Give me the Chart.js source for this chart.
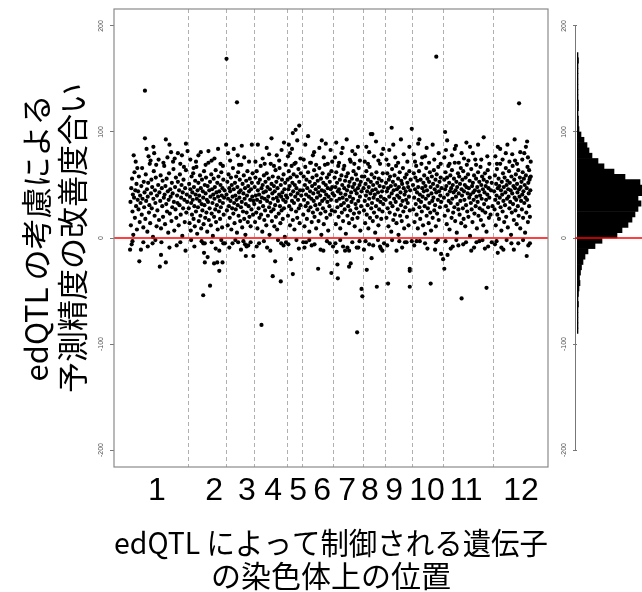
<!DOCTYPE html>
<html>
<head>
<meta charset="utf-8">
<script src="https://cdn.jsdelivr.net/npm/chart.js@4.4.1/dist/chart.umd.min.js"></script>
<style>
	html, body { margin: 0; padding: 0; background: #fff; overflow: hidden; width: 642px; height: 592px; }
	#wrap { position: relative; width: 642px; height: 592px; overflow: hidden; }
	#mainChart { position: absolute; left: 0; top: 0; }
	#histChart { position: absolute; left: 548px; top: 0; }
</style>
</head>
<body>
<div id="wrap">
	<canvas id="mainChart" width="642" height="592"></canvas>
	<canvas id="histChart" width="160" height="592"></canvas>
</div>
<script>
// chromosome layout (gene position index 0..1000)
const chromosomeNames = ['1', '2', '3', '4', '5', '6', '7', '8', '9', '10', '11', '12'];
const chromosomeLabelPos = [67, 209, 291, 356, 418, 478, 540, 597, 657, 739, 836, 973];
const chromosomeBreaks = [145, 238, 308, 390, 428, 506, 579, 634, 701, 778, 904];
const yTicks = [-200, -100, 0, 100, 200];

// [position, improvement] per chromosome
const chr1 = [[1,34],[2,12],[3,47],[5,56],[6,25],[7,41],[8,3],[10,38],[11,62],[12,19],
	[13,45],[15,30],[16,51],[17,8],[19,36],[20,44],[21,27],[22,58],[24,15],[25,40],
	[26,33],[28,49],[29,22],[30,66],[31,37],[33,10],[34,53],[35,29],[36,43],[38,18],
	[39,60],[40,35],[42,46],[43,6],[44,39],[45,52],[47,24],[48,31],[49,70],[50,14],
	[52,42],[53,55],[54,28],[55,48],[57,1],[58,37],[59,63],[61,21],[62,45],[63,33],
	[64,57],[66,11],[67,40],[68,26],[70,50],[71,74],[72,17],[73,43],[75,35],[76,59],
	[77,9],[79,47],[80,30],[81,54],[82,20],[84,38],[85,68],[86,41],[87,13],[88,49],
	[90,32],[91,56],[92,25],[94,44],[95,5],[96,36],[97,61],[99,23],[100,46],[101,39],
	[103,16],[104,52],[105,29],[106,42],[108,65],[109,34],[110,7],[112,48],[113,27],[114,57],
	[115,19],[117,40],[118,33],[119,53],[121,12],[122,45],[123,31],[124,60],[126,22],[127,38],
	[128,50],[130,2],[131,43],[132,28],[133,55],[135,36],[136,15],[137,47],[139,64],[140,24],
	[141,41],[142,34],
	[9,78],[18,66],[41,84],[51,73],[65,69],[93,76],[98,88],[107,72],[129,78],[134,67],
	[37,139],[37,94],[89,93],[58,86],[60,80],[102,81],[119,80],[139,89],[143,82],
	[14,72],[46,77],[83,71],[111,75],[125,70],
	[6,-3],[44,-8],[63,-2],[98,-9],[125,-4],[138,-12],
	[0,-11],[4,-6],[27,-11],[23,-22],[33,-4],[56,-5],[78,-4],[77,-16],[74,-27],[89,-23],[116,-7]];
const chr2 = [[146,28],[147,51],[148,14],[149,39],[150,46],[151,7],[152,33],[153,58],[154,22],[155,43],
	[156,36],[157,61],[158,18],[159,48],[160,30],[161,11],[162,54],[163,41],[164,25],[165,67],
	[166,37],[167,4],[168,45],[169,29],[170,52],[171,16],[172,40],[173,35],[174,59],[175,21],
	[176,47],[177,9],[178,32],[179,55],[180,26],[181,44],[182,38],[183,13],[184,63],[185,31],
	[186,50],[187,19],[188,42],[189,57],[190,24],[191,36],[192,6],[193,49],[194,34],[195,71],
	[196,17],[197,45],[198,28],[199,53],[200,39],[201,12],[202,60],[203,23],[204,46],[205,33],
	[206,2],[207,41],[208,56],[209,20],[210,37],[211,48],[212,27],[213,64],[214,15],[215,43],
	[216,31],[217,52],[218,8],[219,39],[220,58],[221,25],[222,44],[223,35],[224,18],[225,50],
	[226,29],[227,62],[228,40],[229,10],[230,47],[231,33],[232,55],[233,22],[234,38],[235,45],
	[150,74],[158,66],[176,81],[188,69],[203,73],[219,84],[231,68],
	[164,72],[170,78],[195,82],[210,75],[225,70],
	[152,-2],[160,-8],[203,-4],[213,-10],[227,-2],
	[178,-3],[182,-5],[186,-5],[184,-14],[186,-23],[193,-18],[199,-45],[182,-54],[209,-24],[217,-23],
	[222,-12],[222,-31],[230,-23],[232,-5],[236,-5]];
const chr3 = [[240,41],[241,26],[242,53],[243,12],[244,37],[245,60],[246,30],[247,47],[248,19],[249,44],
	[250,35],[251,57],[252,8],[253,50],[254,28],[255,39],[256,66],[257,23],[258,46],[259,33],
	[260,14],[261,52],[262,40],[263,27],[264,58],[265,36],[266,5],[267,48],[268,31],[269,62],
	[270,21],[271,43],[272,38],[273,55],[274,16],[275,45],[276,29],[277,69],[278,34],[279,10],
	[280,51],[281,25],[282,42],[283,59],[284,18],[285,37],[286,47],[287,3],[288,32],[289,54],
	[290,24],[291,40],[292,63],[293,15],[294,49],[295,30],[296,44],[297,20],[298,56],[299,36],
	[300,11],[301,46],[302,27],[303,52],[304,39],[305,61],[306,22],[307,35],
	[249,73],[258,84],[271,69],[284,76],[296,72],[303,88],
	[240,169],[266,128],[244,80],[239,88],[278,87],[268,78],
	[247,-9],[262,-2],[276,-11],[300,-4],
	[255,-5],[269,-4],[282,-3],[286,-6],[290,-8],[288,-17],[294,-7],[307,-17]];
const chr4 = [[309,32],[310,48],[311,15],[312,57],[313,40],[314,24],[315,63],[316,36],[317,9],[318,45],
	[319,52],[320,28],[321,41],[322,19],[323,55],[324,34],[325,68],[326,22],[327,47],[328,38],
	[329,6],[330,50],[331,30],[332,43],[333,59],[334,17],[335,37],[336,26],[337,53],[338,44],
	[339,12],[340,61],[341,35],[342,48],[343,21],[344,39],[345,56],[346,29],[347,3],[348,46],
	[349,33],[350,70],[351,25],[352,51],[353,16],[354,42],[355,58],[356,37],[357,27],[358,49],
	[359,11],[360,44],[361,31],[362,64],[363,20],[364,53],[365,38],[366,8],[367,47],[368,35],
	[369,57],[370,23],[371,41],[372,66],[373,30],[374,14],[375,50],[376,39],[377,26],[378,55],
	[379,43],[380,18],[381,36],[382,60],[383,28],[384,46],[385,1],[386,52],[387,34],[388,40],
	[312,72],[318,88],[335,70],[346,79],[352,94],[358,68],[371,73],[383,90],[387,69],
	[340,85],[377,83],[330,75],[365,78],
	[315,-8],[333,-3],[349,-12],[368,-2],[382,-7],
	[327,-82],[341,-9],[355,-36],[361,-22],[375,-41],[376,-5],[388,-4],[321,-5]];
const chr5 = [[391,38],[392,55],[393,21],[394,46],[395,63],[396,30],[397,49],[398,12],[399,57],[400,41],
	[401,27],[402,68],[403,35],[404,52],[405,17],[406,44],[407,60],[408,33],[409,8],[410,50],
	[411,39],[412,71],[413,25],[414,47],[415,58],[416,19],[417,42],[418,36],[419,65],[420,28],
	[421,53],[422,14],[423,45],[424,31],[425,61],[426,40],
	[393,77],[403,84],[409,70],[416,92],[424,75],
	[405,99],[412,102],[421,106],[398,80],[395,88],
	[394,-6],[414,-2],[420,-10],[400,-20],[405,-34]];
const chr6 = [[430,45],[431,22],[432,58],[433,36],[434,11],[435,50],[436,67],[437,30],[438,41],[439,55],
	[440,18],[441,47],[442,33],[443,62],[444,26],[445,39],[446,6],[447,53],[448,44],[449,29],
	[450,71],[451,37],[452,15],[453,49],[454,57],[455,24],[456,42],[457,35],[458,64],[459,20],
	[460,51],[461,31],[462,46],[463,9],[464,59],[465,38],[466,27],[467,54],[468,43],[469,16],
	[470,48],[471,66],[472,32],[473,40],[474,23],[475,56],[476,3],[477,45],[478,35],[479,61],
	[480,28],[481,52],[482,13],[483,44],[484,37],[485,69],[486,25],[487,50],[488,41],[489,19],
	[490,57],[491,34],[492,47],[493,7],[494,39],[495,60],[496,30],[497,53],[498,22],[499,46],
	[500,36],[501,63],[502,26],[503,48],[504,42],
	[432,74],[436,88],[448,71],[455,78],[463,69],[477,92],[482,76],[492,70],[499,83],[503,72],
	[443,96],[458,81],[471,85],[487,89],
	[434,-9],[446,-2],[459,-6],[474,-11],[490,-3],
	[431,-4],[438,-4],[452,-7],[468,-29],[481,-12],[497,-5],[501,-33],[505,-8]];
const chr7 = [[508,40],[509,57],[510,25],[511,48],[512,13],[513,62],[514,35],[515,52],[516,29],[517,44],
	[518,68],[519,20],[520,46],[521,37],[522,55],[523,9],[524,42],[525,31],[526,59],[527,24],
	[528,50],[529,38],[530,16],[531,65],[532,33],[533,47],[534,27],[535,54],[536,41],[537,4],
	[538,58],[539,36],[540,45],[541,21],[542,61],[543,30],[544,49],[545,14],[546,53],[547,39],
	[548,26],[549,72],[550,43],[551,34],[552,56],[553,18],[554,48],[555,37],[556,63],[557,23],
	[558,51],[559,11],[560,45],[561,32],[562,60],[563,28],[564,42],[565,55],[566,19],[567,47],
	[568,35],[569,66],[570,24],[571,50],[572,39],[573,7],[574,53],[575,30],[576,44],[577,58],
	[510,76],[513,90],[520,71],[526,80],[533,68],[539,93],[547,74],[553,82],[558,70],[567,86],[572,73],
	[529,85],[560,79],
	[511,-5],[523,-2],[530,-8],[553,-4],[571,-3],
	[514,-13],[516,-25],[517,-38],[535,-12],[541,-9],[545,-12],[545,-27],[549,-24],[564,-9],[565,-89],
	[568,-9],[576,-48],[578,-55]];
const chr8 = [[581,47],[582,26],[583,58],[584,35],[585,14],[586,51],[587,40],[588,63],[589,22],[590,44],
	[591,31],[592,55],[593,9],[594,48],[595,37],[596,67],[597,19],[598,42],[599,53],[600,28],
	[601,60],[602,33],[603,45],[604,16],[605,50],[606,38],[607,24],[608,57],[609,41],[610,5],
	[611,46],[612,30],[613,62],[614,20],[615,52],[616,36],[617,43],[618,12],[619,56],[620,27],
	[621,49],[622,70],[623,34],[624,39],[625,18],[626,54],[627,44],[628,25],[629,61],[630,32],
	[631,48],[632,37],
	[584,72],[588,86],[592,70],[607,77],[612,91],[618,73],[630,84],
	[595,81],[599,98],[603,98],[626,79],
	[586,-3],[605,-7],[617,-2],[628,-12],
	[582,-11],[589,-30],[595,-6],[601,-19],[614,-46],[622,-8],[624,-10],[632,-5]];
const chr9 = [[636,36],[637,52],[638,19],[639,44],[640,61],[641,28],[642,47],[643,11],[644,55],[645,39],
	[646,24],[647,58],[648,33],[649,49],[650,6],[651,42],[652,65],[653,30],[654,53],[655,17],
	[656,45],[657,37],[658,59],[659,22],[660,50],[661,34],[662,68],[663,14],[664,46],[665,40],
	[666,27],[667,56],[668,3],[669,48],[670,38],[671,62],[672,21],[673,43],[674,31],[675,54],
	[676,16],[677,51],[678,35],[679,66],[680,25],[681,47],[682,9],[683,41],[684,57],[685,29],
	[686,44],[687,36],[688,60],[689,20],[690,52],[691,33],[692,48],[693,12],[694,39],[695,63],
	[696,26],[697,45],[698,55],
	[638,74],[643,69],[655,88],[660,76],[667,71],[674,93],[681,79],[690,72],[695,86],
	[645,83],[651,104],[701,103],
	[640,-7],[652,-2],[677,-9],[684,-4],
	[642,-43],[663,-12],[670,-3],[688,-4],[696,-29],[696,-31],[696,-46],[701,-3]];
const chr10 = [[704,50],[705,27],[706,61],[707,38],[708,15],[709,46],[710,57],[711,32],[712,68],[713,22],
	[714,43],[715,54],[716,9],[717,48],[718,36],[719,63],[720,29],[721,41],[722,18],[723,55],
	[724,34],[725,70],[726,25],[727,47],[728,39],[729,12],[730,52],[731,44],[732,59],[733,30],
	[734,4],[735,49],[736,37],[737,66],[738,21],[739,45],[740,56],[741,28],[742,40],[743,14],
	[744,53],[745,33],[746,62],[747,24],[748,48],[749,7],[750,42],[751,58],[752,35],[753,19],
	[754,51],[755,38],[756,64],[757,26],[758,46],[759,31],[760,55],[761,11],[762,43],[763,60],
	[764,23],[765,49],[766,36],[767,67],[768,17],[769,44],[770,53],[771,29],[772,40],[773,57],
	[774,34],[775,47],
	[706,79],[709,72],[720,93],[727,76],[738,85],[744,71],[753,88],[757,74],[768,80],[773,70],
	[717,89],[734,77],[762,171],
	[707,-7],[721,-3],[740,-10],[766,-2],
	[713,-3],[734,-5],[748,-43],[759,-11],[761,-4],[774,-15]];
const chr11 = [[781,38],[782,55],[783,21],[784,46],[785,62],[786,30],[787,49],[788,13],[789,57],[790,41],
	[791,26],[792,68],[793,35],[794,52],[795,8],[796,44],[797,59],[798,33],[799,47],[800,19],
	[801,64],[802,37],[803,50],[804,24],[805,43],[806,56],[807,29],[808,71],[809,16],[810,45],
	[811,39],[812,53],[813,5],[814,48],[815,32],[816,61],[817,27],[818,42],[819,58],[820,22],
	[821,51],[822,35],[823,66],[824,14],[825,46],[826,40],[827,55],[828,28],[829,63],[830,18],
	[831,44],[832,36],[833,50],[834,11],[835,57],[836,31],[837,48],[838,69],[839,25],[840,42],
	[841,60],[842,20],[843,47],[844,38],[845,54],[846,2],[847,41],[848,33],[849,65],[850,27],
	[851,49],[852,15],[853,52],[854,43],[855,36],[856,59],[857,23],[858,45],[859,74],[860,30],
	[861,56],[862,39],[863,9],[864,48],[865,34],[866,62],[867,21],[868,44],[869,53],[870,28],
	[871,40],[872,67],[873,17],[874,50],[875,37],[876,58],[877,26],[878,46],[879,12],[880,55],
	[881,32],[882,43],[883,61],[884,24],[885,49],[886,36],[887,6],[888,53],[889,41],[890,64],
	[891,29],[892,47],[893,19],[894,38],[895,57],[897,22],[898,45],[900,52],[902,30],
	[782,76],[789,92],[795,70],[801,78],[808,84],[818,71],[831,75],[837,90],[842,73],[853,80],
	[861,69],[866,88],[874,74],[880,95],[889,77],[894,70],
	[784,100],[786,83],[811,87],[825,80],[846,86],
	[785,-3],[798,-10],[812,-2],[829,-6],[849,-12],[862,-4],[877,-2],[891,-8],
	[779,-20],[782,-29],[790,-16],[803,-8],[817,-7],[825,-57],[836,-4],[856,-9],[869,-3],[883,-10],
	[887,-47],[900,-4]];
const chr12 = [[906,44],[907,27],[908,59],[909,36],[910,12],[911,51],[912,40],[913,65],[914,22],[915,47],
	[916,33],[917,56],[918,18],[919,49],[920,38],[921,70],[922,29],[923,45],[924,7],[925,53],
	[926,41],[927,25],[928,61],[929,35],[930,48],[931,15],[932,57],[933,31],[934,43],[935,66],
	[936,20],[937,50],[938,37],[939,54],[940,10],[941,46],[942,39],[943,63],[944,28],[945,52],
	[946,34],[947,45],[948,3],[949,58],[950,24],[951,42],[952,68],[953,32],[954,49],[955,17],
	[956,55],[957,38],[958,47],[959,26],[960,60],[961,36],[962,13],[963,51],[964,43],[965,30],
	[966,64],[967,21],[968,46],[969,39],[970,57],[971,9],[972,48],[973,35],[974,53],[975,27],
	[976,41],[977,62],[978,19],[979,44],[980,56],[981,33],[982,50],[983,5],[984,38],[985,59],
	[986,24],[987,47],[988,36],[989,67],[990,15],[991,52],[992,42],[993,30],[994,55],[995,20],
	[996,45],[997,58],
	[909,77],[913,70],[921,84],[927,74],[939,88],[944,72],[951,79],[957,93],[963,70],[971,81],
	[976,74],[985,86],[990,76],[997,72],
	[915,86],[935,80],[958,73],[968,127],[988,91],[981,80],[993,64],[995,57],
	[912,-3],[924,-9],[937,-2],[955,-11],[966,-5],[978,-2],
	[908,-6],[915,-14],[929,-11],[949,-5],[987,-17],[991,-7],[995,-5]];

// histogram of the improvement (bin lower edge, bar length)
const histBinStart = [-90,-85,-80,-75,-70,-65,-60,-55,-50,-45,-40,-35,-30,-25,-20,-15,-10,-5,
	0,5,10,15,20,25,30,35,40,45,50,55,60,65,70,75,80,85,90,95,
	100,105,110,115,120,125,130,135,140,145,150,155,160,165,170];
const histCount = [1,1,1,1,1,1.5,1,1.5,2,3,2.5,3.5,4.5,6,8,11,18,25,
	40,45,51,55,58,61,64,61,72,74,63,48,37,27,21,15,12,10,7,4,
	2,1.5,1.5,1,1.5,1.5,1,1,1,1,1,1,1,1.5,1];

const allChromosomes = [chr1, chr2, chr3, chr4, chr5, chr6, chr7, chr8, chr9, chr10, chr11, chr12];
const points = allChromosomes.flat().map(p => ({x: p[0], y: p[1]}));

const Y_MIN = -216, Y_MAX = 216;
const tickFont = {family: "'Liberation Sans', Arial, sans-serif", size: 7};
const cjk = "'Noto Sans CJK JP', 'Noto Sans CJK SC', sans-serif";

// plot frame and dashed chromosome borders
const framePlugin = {
	id: 'frame',
	beforeDatasetsDraw(chart) {
		const a = chart.chartArea, c = chart.ctx, x = chart.scales.x;
		c.save();
		c.strokeStyle = '#b0b0b0';
		c.lineWidth = 1;
		c.setLineDash([4, 3]);
		chromosomeBreaks.forEach(b => {
			const px = Math.round(x.getPixelForValue(b)) + 0.5;
			c.beginPath();
			c.moveTo(px, a.top);
			c.lineTo(px, a.bottom);
			c.stroke();
		});
		c.restore();
	},
	afterDraw(chart) {
		const a = chart.chartArea, c = chart.ctx;
		c.save();
		c.strokeStyle = '#8a8a8a';
		c.lineWidth = 1.2;
		c.strokeRect(a.left, a.top, a.right - a.left, a.bottom - a.top);
		c.restore();
	}
};

var ctx = document.getElementById('mainChart').getContext('2d');
var mainChart = new Chart(ctx, {
	type: 'scatter',
	data: {
		datasets: [
			{
				data: [{x: -40, y: 0}, {x: 1040, y: 0}],
				showLine: true,
				borderColor: '#ff0000',
				borderWidth: 1.6,
				pointRadius: 0
			},
			{
				data: points,
				pointRadius: 2.1,
				pointBackgroundColor: '#000',
				pointBorderWidth: 0
			}
		]
	},
	options: {
		responsive: false,
		animation: false,
		devicePixelRatio: 1,
		layout: {padding: {top: 9, right: 94, left: 0, bottom: 0}},
		plugins: {legend: {display: false}, tooltip: {enabled: false}},
		scales: {
			y: {
				min: Y_MIN, max: Y_MAX,
				afterBuildTicks: s => { s.ticks = yTicks.map(v => ({value: v})); },
				afterFit: s => { s.width = 114; },
				grid: {drawOnChartArea: false, drawTicks: true, tickLength: 4, color: '#777'},
				border: {display: false},
				ticks: {font: tickFont, color: '#555', minRotation: 90, maxRotation: 90, padding: 2, crossAlign: 'center'},
				title: {
					display: true,
					text: ['edQTL の考慮による', '予測精度の改善度合い'],
					font: {family: cjk, size: 31, lineHeight: 1.14},
					color: '#000',
					padding: {top: 19, bottom: 0}
				}
			},
			x: {
				type: 'linear', min: -40, max: 1040, weight: 0,
				afterFit: s => { s.height = 0; },
				grid: {display: false},
				border: {display: false},
				ticks: {display: false}
			},
			x2: {
				type: 'linear', position: 'bottom', axis: 'x', min: -40, max: 1040, weight: 1,
				afterBuildTicks: s => { s.ticks = chromosomeLabelPos.map(v => ({value: v})); },
				afterFit: s => { s.height = 125; },
				grid: {display: false, drawTicks: false},
				border: {display: false},
				ticks: {
					autoSkip: false, maxRotation: 0, padding: 5, color: '#000',
					font: {family: "'Liberation Sans Narrow', 'Liberation Sans', Arial, sans-serif", size: 32},
					callback: (v, i) => chromosomeNames[i]
				},
				title: {
					display: true,
					text: ['edQTL によって制御される遺伝子', 'の染色体上の位置'],
					font: {family: cjk, size: 30, lineHeight: 1.1},
					color: '#000',
					padding: {top: 0, bottom: 0}
				}
			}
		}
	},
	plugins: [framePlugin]
});

const histAxisPlugin = {
	id: 'histAxis',
	afterDraw(chart) {
		const a = chart.chartArea, c = chart.ctx, y = chart.scales.y;
		c.save();
		c.strokeStyle = '#777';
		c.lineWidth = 1;
		c.beginPath();
		c.moveTo(a.left - 1.5, y.getPixelForValue(-200));
		c.lineTo(a.left - 1.5, y.getPixelForValue(200));
		c.stroke();
		c.strokeStyle = '#ff0000';
		c.lineWidth = 1.6;
		c.beginPath();
		c.moveTo(a.left - 2, y.getPixelForValue(0));
		c.lineTo(a.right, y.getPixelForValue(0));
		c.stroke();
		c.restore();
	}
};

var hctx = document.getElementById('histChart').getContext('2d');
var histChart = new Chart(hctx, {
	type: 'bar',
	data: {
		datasets: [{
			data: histBinStart.map((b, i) => ({y: b + 2.5, x: histCount[i]})),
			backgroundColor: '#000',
			borderWidth: 0,
			barPercentage: 1,
			categoryPercentage: 1
		}]
	},
	options: {
		indexAxis: 'y',
		responsive: false,
		animation: false,
		devicePixelRatio: 1,
		layout: {padding: {top: 9, right: 0, left: 0, bottom: 125}},
		plugins: {legend: {display: false}, tooltip: {enabled: false}},
		scales: {
			y: {
				type: 'linear', min: Y_MIN, max: Y_MAX, position: 'left', offset: false,
				afterBuildTicks: s => { s.ticks = yTicks.map(v => ({value: v})); },
				afterFit: s => { s.width = 29; },
				grid: {offset: false, drawOnChartArea: false, drawTicks: true, tickLength: 4, color: '#777'},
				border: {display: false},
				ticks: {font: tickFont, color: '#555', minRotation: 90, maxRotation: 90, padding: 2, crossAlign: 'center'}
			},
			x: {
				type: 'linear', min: 0, max: 131, display: false
			}
		}
	},
	plugins: [histAxisPlugin]
});
</script>
</body>
</html>
